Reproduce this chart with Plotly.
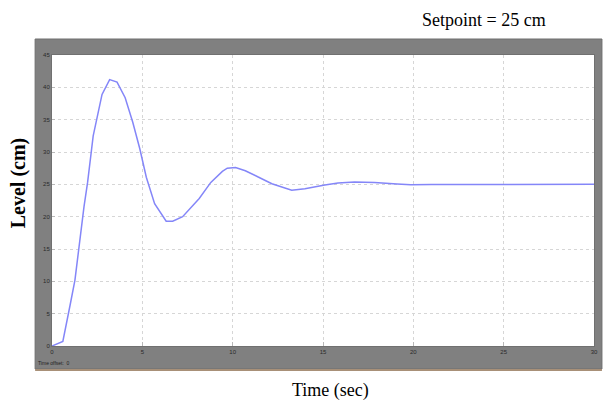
import plotly.graph_objects as go

# Tank level response to a 25 cm setpoint (scope trace)
time_s = [0, 0.6, 1.0, 1.27, 1.77, 1.97, 2.28, 2.77, 3.19, 3.6, 4.05, 4.47,
          4.86, 5.22, 5.68, 6.32, 6.68, 7.23, 8.15, 8.79, 9.43, 9.7, 10.16,
          10.7, 11.44, 12.17, 13.27, 14.0, 15.1, 15.83, 16.75, 17.85, 19.1,
          19.86, 21, 25, 30]
level_cm = [0, 0.7, 6.3, 10.2, 21.5, 25.3, 32.5, 38.9, 41.2, 40.8, 38.4, 34.6,
            30.5, 26.1, 22.0, 19.3, 19.3, 20.0, 22.8, 25.3, 27.0, 27.5, 27.6,
            27.1, 26.1, 25.1, 24.1, 24.3, 24.9, 25.2, 25.35, 25.3, 25.07,
            24.95, 24.97, 25.0, 25.0]

x_ticks = [0, 5, 10, 15, 20, 25, 30]
y_ticks = [0, 5, 10, 15, 20, 25, 30, 35, 40, 45]

W, H = 606, 403
ML, MR, MT, MB = 52, 8, 55, 57
PW, PH = W - ML - MR, H - MT - MB


def px_x(p):
    return (p - ML) / PW


def px_y(p):
    return (H - MB - p) / PH


fig = go.Figure()
fig.add_trace(go.Scatter(
    x=time_s, y=level_cm, mode="lines",
    line=dict(color="#8486f8", width=1.5),
    hoverinfo="skip", showlegend=False,
))

grey_frame = dict(type="rect", xref="paper", yref="paper", layer="below",
                  x0=px_x(35), x1=px_x(606), y0=px_y(369), y1=px_y(39),
                  fillcolor="#808080", line=dict(color="#6e6e6e", width=1))
plot_face = dict(type="rect", xref="paper", yref="paper", layer="below",
                 x0=0, x1=1, y0=0, y1=1, fillcolor="white",
                 line=dict(width=0))
base_strip = dict(type="line", xref="paper", yref="paper", layer="below",
                  x0=px_x(35), x1=px_x(606), y0=px_y(370), y1=px_y(370),
                  line=dict(color="#a89078", width=2))

grid_style = dict(showgrid=True, gridcolor="#d6d6d6", griddash="dot",
                  gridwidth=1, zeroline=False, showline=True,
                  linecolor="#707070", mirror=True, ticks="inside",
                  tickcolor="#b8b8b8",
                  tickfont=dict(family="Arial", size=6, color="#2a2a2a"))

fig.update_layout(
    width=W, height=H,
    margin=dict(l=ML, r=MR, t=MT, b=MB),
    paper_bgcolor="white", plot_bgcolor="white",
    shapes=[grey_frame, plot_face, base_strip],
    xaxis=dict(range=[0, 30], tickvals=x_ticks,
               ticktext=[str(v) for v in x_ticks], ticklen=4, **grid_style),
    yaxis=dict(range=[0, 45], tickvals=y_ticks,
               ticktext=[str(v) for v in y_ticks], ticklen=3, **grid_style),
    annotations=[
        dict(text="Setpoint = 25 cm", xref="paper", yref="paper",
             x=px_x(487), y=px_y(20), xanchor="center", yanchor="middle",
             showarrow=False,
             font=dict(family="Liberation Serif", size=18, color="black")),
        dict(text="<b>Level (cm)</b>", xref="paper", yref="paper",
             x=px_x(18), y=px_y(183), xanchor="center", yanchor="middle",
             textangle=-90, showarrow=False,
             font=dict(family="Liberation Serif", size=20, color="black")),
        dict(text="Time (sec)", xref="paper", yref="paper",
             x=px_x(333), y=px_y(390), xanchor="center", yanchor="middle",
             showarrow=False,
             font=dict(family="Liberation Serif", size=18, color="black")),
        dict(text="Time offset:  0", xref="paper", yref="paper",
             x=px_x(36), y=px_y(363), xanchor="left", yanchor="middle",
             showarrow=False,
             font=dict(family="Arial", size=5, color="#1e1e1e")),
    ],
)

fig.write_html("out.html")
